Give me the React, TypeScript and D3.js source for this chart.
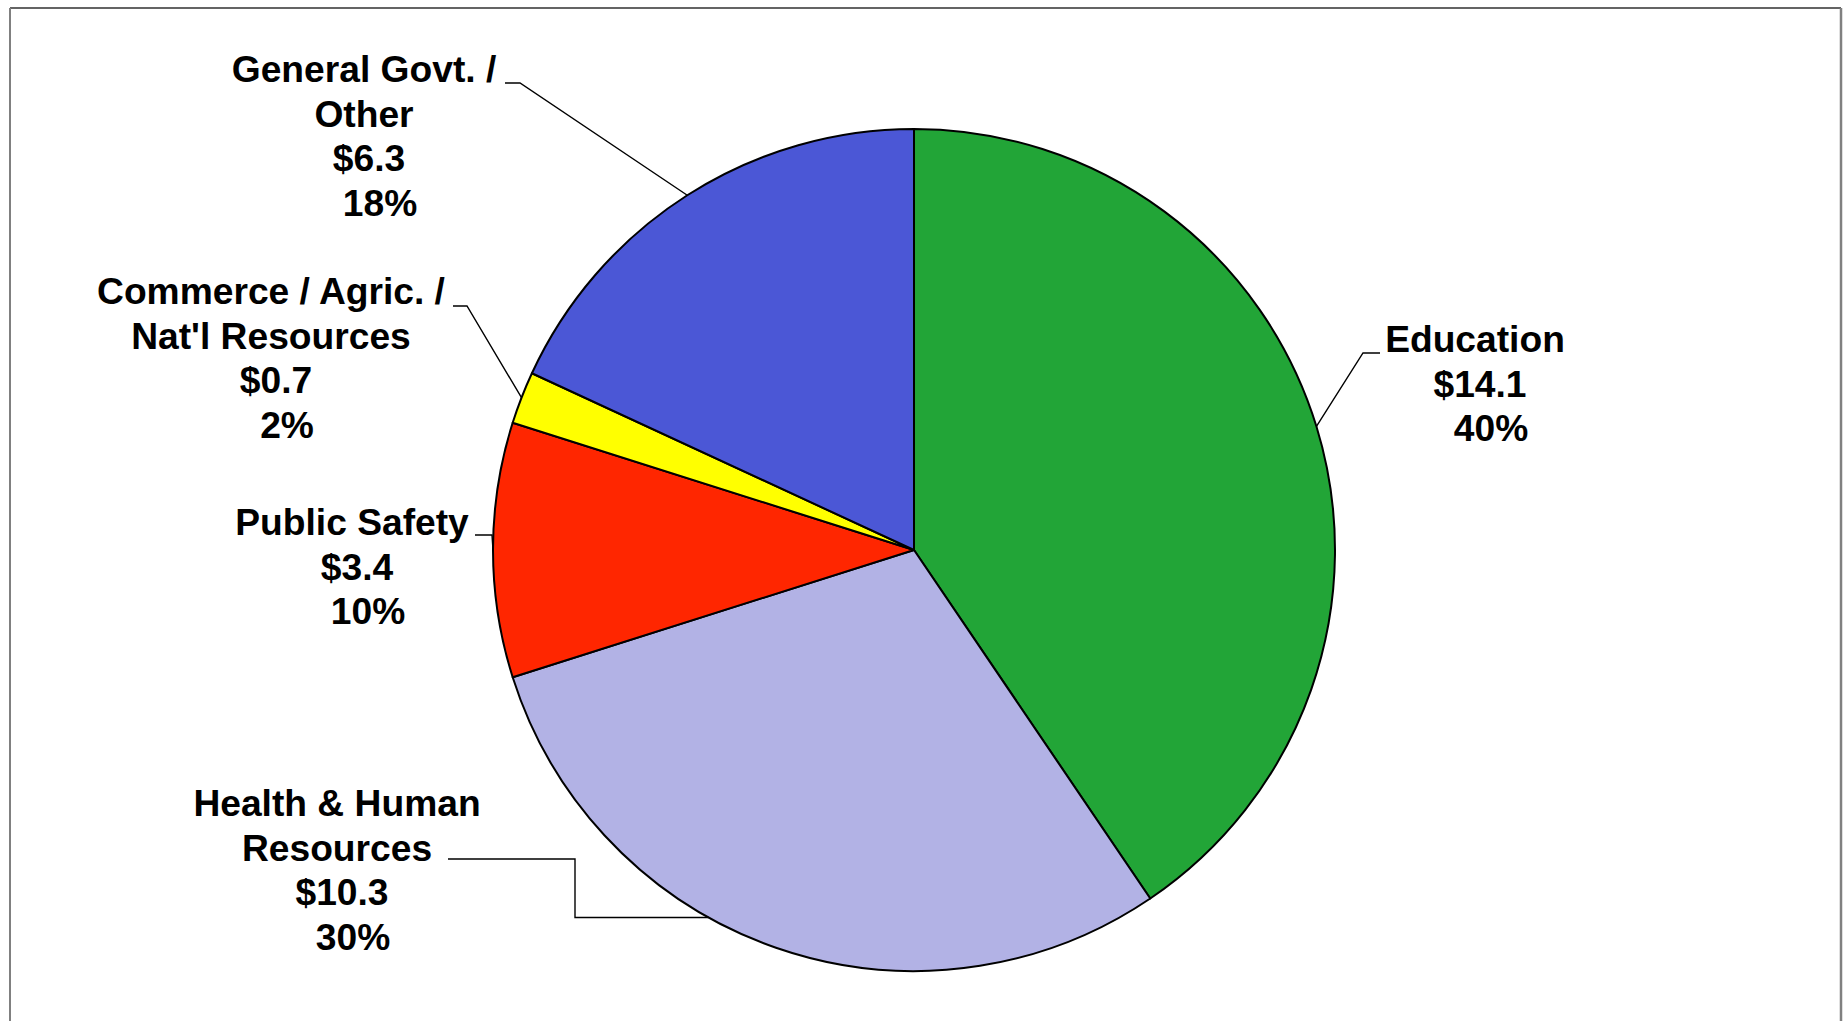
import React from "react";
import * as d3 from "d3";

const categories = ["Education", "Health & Human Resources", "Public Safety", "Commerce / Agric. / Nat'l Resources", "General Govt. / Other"];
const categoryLines = [["Education"], ["Health & Human", "Resources"], ["Public Safety"], ["Commerce / Agric. /", "Nat'l Resources"], ["General Govt. /", "Other"]];
const values = [14.1, 10.3, 3.4, 0.7, 6.3];
const valueLabels = ["$14.1", "$10.3", "$3.4", "$0.7", "$6.3"];
const percentLabels = ["40%", "30%", "10%", "2%", "18%"];
const colors = ["#22A537", "#B2B2E5", "#FF2600", "#FFFF00", "#4B57D6"];

const W = 1845;
const H = 1021;
const CX = 914;
const CY = 550;
const R = 421;
const FONT = 37.2;
const LH = 44.7;

// label layout (centre x, first baseline), leader start/elbow, optional edge angle override (deg)
const labelLayout = [
  { x: 1475, y: 352, start: [1380, 353], elbow: [1363, 353], angle: null as number | null, step: false },
  { x: 337, y: 816, start: [448, 859], elbow: [575, 859], angle: 209.2, step: true },
  { x: 352, y: 535, start: [475, 535], elbow: [492, 535], angle: null, step: false },
  { x: 271, y: 304, start: [453, 306], elbow: [467, 306], angle: null, step: false },
  { x: 364, y: 82, start: [505, 83], elbow: [520, 83], angle: null, step: false },
];

export default function App() {
  const pie = d3.pie<number>().sort(null).value((d) => d)(values);
  const arc = d3.arc<d3.PieArcDatum<number>>().innerRadius(0).outerRadius(R);

  const edgePoint = (deg: number) => {
    const a = (deg * Math.PI) / 180;
    return [CX + R * Math.sin(a), CY - R * Math.cos(a)];
  };

  return (
    <div style={{ position: "absolute", left: 0, top: 0, width: W, height: H, background: "#fff" }}>
      <svg width={W} height={H} style={{ display: "block" }}>
        <rect x={0} y={0} width={W} height={H} fill="#fff" />
        <line x1={10} y1={8} x2={1841} y2={8} stroke="#303030" strokeWidth={1.6} />
        <line x1={10} y1={8} x2={10} y2={H} stroke="#808080" strokeWidth={2} />
        <line x1={1841} y1={8} x2={1841} y2={H} stroke="#808080" strokeWidth={2.5} />
        <g transform={`translate(${CX},${CY})`}>
          {pie.map((p, i) => (
            <path key={categories[i]} d={arc(p) || ""} fill={colors[i]} stroke="#000" strokeWidth={2} strokeLinejoin="round" />
          ))}
        </g>
        {pie.map((p, i) => {
          const L = labelLayout[i];
          const mid = (((p.startAngle + p.endAngle) / 2) * 180) / Math.PI;
          const e = edgePoint(L.angle ?? mid);
          const d = L.step
            ? `M${L.start[0]},${L.start[1]}H${L.elbow[0]}V${e[1]}H${e[0]}`
            : `M${L.start[0]},${L.start[1]}L${L.elbow[0]},${L.elbow[1]}L${e[0]},${e[1]}`;
          return <path key={"l" + i} d={d} fill="none" stroke="#000" strokeWidth={1.4} />;
        })}
        {pie.map((p, i) => {
          const L = labelLayout[i];
          const lines = [
            ...categoryLines[i].map((t) => ({ t, dx: 0 })),
            { t: valueLabels[i], dx: 5 },
            { t: percentLabels[i], dx: 16 },
          ];
          return (
            <text
              key={"t" + i}
              fontFamily="'Liberation Sans', Arial, sans-serif"
              fontWeight="bold"
              fontSize={FONT}
              textAnchor="middle"
              fill="#000"
            >
              {lines.map((ln, j) => (
                <tspan key={j} x={L.x + ln.dx} y={L.y + j * LH}>
                  {ln.t}
                </tspan>
              ))}
            </text>
          );
        })}
      </svg>
    </div>
  );
}
